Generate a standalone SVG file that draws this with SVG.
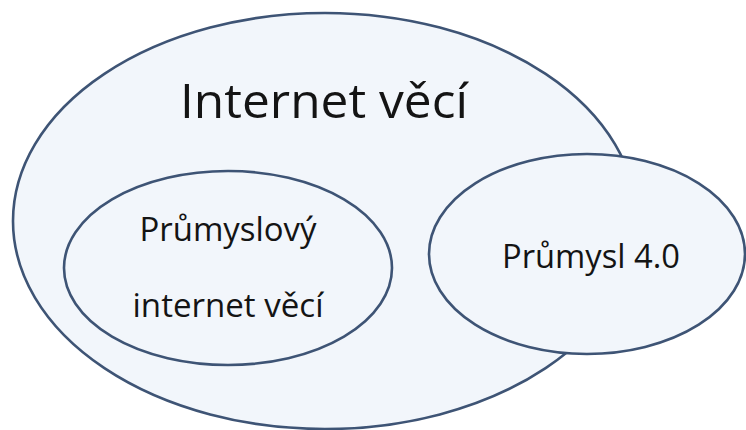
<svg xmlns="http://www.w3.org/2000/svg" width="746" height="430" viewBox="0 0 746 430">
  <style>
    .set { fill: #F2F6FB; stroke: #3E5475; stroke-width: 2.6; }
    .label { font-family: "Open Sans", "Noto Sans", "DejaVu Sans", sans-serif; fill: #141414; text-anchor: middle; }
    .big { font-size: 47px; }
    .mid { font-size: 33px; }
  </style>
  <rect width="746" height="430" fill="#FFFFFF"/>

  <!-- outer set: Internet of Things -->
  <g id="internet-veci">
    <ellipse class="set" cx="325" cy="221" rx="312" ry="208"/>
    <text class="label big" x="324" y="118" textLength="288" lengthAdjust="spacingAndGlyphs">Internet věcí</text>
  </g>

  <!-- nested set: Industrial IoT -->
  <g id="prumyslovy-internet-veci">
    <ellipse class="set" cx="228" cy="268" rx="164" ry="97"/>
    <text class="label mid" x="228" y="241" textLength="177" lengthAdjust="spacingAndGlyphs">Průmyslový</text>
    <text class="label mid" x="228" y="317" textLength="191" lengthAdjust="spacingAndGlyphs">internet věcí</text>
  </g>

  <!-- overlapping set: Industry 4.0 -->
  <g id="prumysl-4-0">
    <ellipse class="set" cx="587" cy="254" rx="158" ry="100"/>
    <text class="label mid" x="591" y="268" textLength="178" lengthAdjust="spacingAndGlyphs">Průmysl 4.0</text>
  </g>
</svg>
